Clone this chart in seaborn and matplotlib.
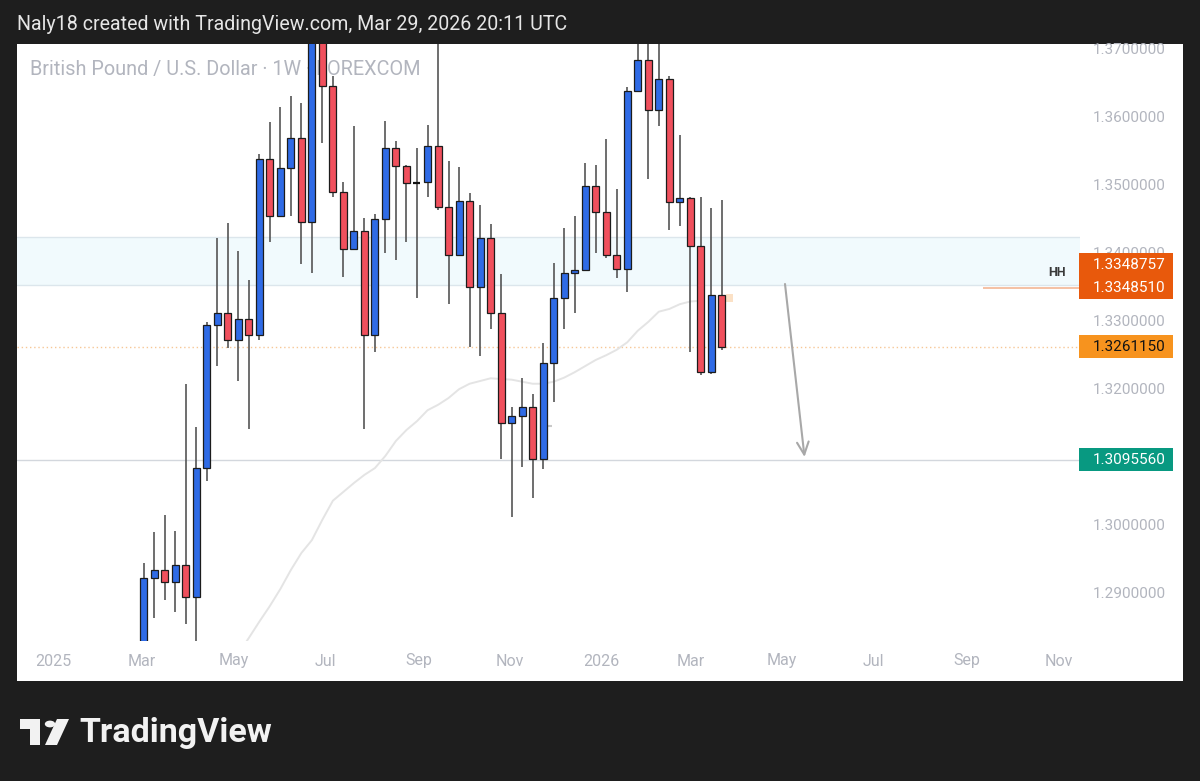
import numpy as np
import pandas as pd
import matplotlib
matplotlib.use("Agg")
import matplotlib.pyplot as plt
import matplotlib.dates as mdates
from matplotlib.patches import Rectangle, Circle, Polygon
from matplotlib.transforms import blended_transform_factory
import seaborn as sns

# ---------------- data (weekly GBP/USD candles) ----------------
first_week = "2025-03-02"
opens = [1.2700, 1.2922, 1.2933, 1.2915, 1.2941, 1.2894, 1.3083, 1.3293, 1.3311, 1.3271,
         1.3302, 1.3279, 1.3538, 1.3454, 1.3524, 1.3569, 1.3445, 1.3716, 1.3645, 1.3489,
         1.3405, 1.3432, 1.3279, 1.3450, 1.3554, 1.3527, 1.3502, 1.3504, 1.3557, 1.3467,
         1.3397, 1.3476, 1.3350, 1.3422, 1.3311, 1.3149, 1.3160, 1.3173, 1.3096, 1.3238,
         1.3333, 1.3370, 1.3374, 1.3498, 1.3459, 1.3397, 1.3376, 1.3638, 1.3683, 1.3609,
         1.3655, 1.3474, 1.3480, 1.3410, 1.3224, 1.3338]
highs = [1.2943, 1.2989, 1.3014, 1.2990, 1.3206, 1.3144, 1.3298, 1.3422, 1.3443, 1.3402,
         1.3360, 1.3545, 1.3592, 1.3614, 1.3630, 1.3620, 1.3750, 1.3790, 1.3660, 1.3503,
         1.3586, 1.3451, 1.3457, 1.3593, 1.3564, 1.3529, 1.3553, 1.3588, 1.3726, 1.3535,
         1.3526, 1.3488, 1.3470, 1.3442, 1.3368, 1.3173, 1.3215, 1.3192, 1.3267, 1.3384,
         1.3436, 1.3454, 1.3532, 1.3529, 1.3567, 1.3493, 1.3644, 1.3720, 1.3740, 1.3760,
         1.3660, 1.3573, 1.3482, 1.3481, 1.3465, 1.3477]
lows = [1.2680, 1.2862, 1.2889, 1.2871, 1.2854, 1.2710, 1.3064, 1.3233, 1.3260, 1.3211,
        1.3140, 1.3272, 1.3415, 1.3453, 1.3454, 1.3383, 1.3370, 1.3561, 1.3481, 1.3364,
        1.3403, 1.3141, 1.3254, 1.3399, 1.3389, 1.3416, 1.3333, 1.3481, 1.3463, 1.3324,
        1.3395, 1.3261, 1.3248, 1.3287, 1.3097, 1.3011, 1.3085, 1.3039, 1.3081, 1.3180,
        1.3287, 1.3311, 1.3373, 1.3400, 1.3392, 1.3362, 1.3342, 1.3636, 1.3508, 1.3586,
        1.3433, 1.3439, 1.3253, 1.3220, 1.3222, 1.3257]
closes = [1.2921, 1.2933, 1.2915, 1.2941, 1.2894, 1.3083, 1.3293, 1.3311, 1.3271, 1.3302,
          1.3279, 1.3538, 1.3454, 1.3525, 1.3569, 1.3445, 1.3716, 1.3645, 1.3489, 1.3405,
          1.3432, 1.3279, 1.3449, 1.3554, 1.3527, 1.3502, 1.3504, 1.3557, 1.3467, 1.3397,
          1.3476, 1.3350, 1.3422, 1.3311, 1.3149, 1.3160, 1.3173, 1.3096, 1.3238, 1.3333,
          1.3370, 1.3374, 1.3498, 1.3459, 1.3397, 1.3376, 1.3638, 1.3683, 1.3609, 1.3655,
          1.3474, 1.3480, 1.3410, 1.3224, 1.3338, 1.326115]
doji_flags = [i == 26 for i in range(len(opens))]

# moving average line (starts at candle index 9)
ma_start_index = 9
ma_values = [1.2810, 1.2833, 1.2857, 1.2880, 1.2905, 1.2933, 1.2958, 1.2977, 1.3007, 1.3035,
             1.3048, 1.3061, 1.3073, 1.3083, 1.3101, 1.3123, 1.3139, 1.3152, 1.3168, 1.3176,
             1.3186, 1.3199, 1.3207, 1.3211, 1.3215, 1.3214, 1.3213, 1.3210, 1.3207, 1.3207,
             1.3210, 1.3216, 1.3224, 1.3233, 1.3242, 1.3249, 1.3257, 1.3268, 1.3285, 1.3298,
             1.3313, 1.3317, 1.3324, 1.3328, 1.3329]

zone_low, zone_high = 1.33522, 1.34224
support_price = 1.3095560
current_price = 1.3261150
ray_price = 1.3348510
upper_label_value = 1.3348757
ray_start = "2026-09-12"
arrow_start = ("2026-05-03", 1.33537)
arrow_end = ("2026-05-16", 1.30993)
hh_pos = ("2026-10-31", 1.33699)
dash_span = ("2025-11-22", "2025-11-29", 1.31453)
marker_box = ("2026-03-27", 1.33331)

ytick_values = [1.37, 1.36, 1.35, 1.34, 1.33, 1.32, 1.31, 1.30, 1.29]
xtick_dates = ["2025-01-01", "2025-03-01", "2025-05-01", "2025-07-01", "2025-09-01", "2025-11-01",
               "2026-01-01", "2026-03-01", "2026-05-01", "2026-07-01", "2026-09-01", "2026-11-01"]
xtick_labels = ["2025", "Mar", "May", "Jul", "Sep", "Nov", "2026", "Mar", "May", "Jul", "Sep", "Nov"]

header_text = "Naly18 created with TradingView.com, Mar 29, 2026 20:11 UTC"
title_text = "British Pound / U.S. Dollar · 1W · FOREXCOM"

# ---------------- style ----------------
sns.set_theme(style="white")
plt.rcParams["font.family"] = ["Roboto", "DejaVu Sans"]

BG = "#1e1e1e"
BLUE = "#2f6be6"
RED = "#f0505d"
EDGE = "#1c1c1c"
WICK = "#555555"
AXTXT = "#b2b5be"

W, H = 1200, 781
fig = plt.figure(figsize=(W / 100, H / 100), dpi=100, facecolor=BG)

def fx(px):
    return px / W

def fy(py):
    return 1 - py / H

# white chart panel
fig.patches.append(Rectangle((fx(17), fy(681)), fx(1183) - fx(17), fy(44) - fy(681),
                             transform=fig.transFigure, facecolor="white", edgecolor="none", zorder=-5))

ax = fig.add_axes([fx(17), fy(641), fx(1080) - fx(17), fy(44) - fy(641)])
ax.set_facecolor("white")
for s in ax.spines.values():
    s.set_visible(False)

base = mdates.date2num(pd.Timestamp("2025-01-01"))
dates = pd.date_range(first_week, periods=len(opens), freq="7D")
xs = mdates.date2num(dates)
ax.set_xlim(base - 24.3, base + 683.4)
ax.set_ylim(1.282868, 1.370662)

# zone, support and price lines
ax.axhspan(zone_low, zone_high, facecolor="#f1fafd", edgecolor="none", zorder=0)
ax.axhline(zone_high, color="#dce6ec", lw=1, zorder=0.5)
ax.axhline(zone_low, color="#dce6ec", lw=1, zorder=0.5)
ax.axhline(support_price, color="#d3d7dd", lw=1, zorder=0.5)
ax.axhline(current_price, color="#f7c796", lw=1, ls=(0, (1, 2)), zorder=0.6)

# title inside pane (under candles)
ax.text((30 - 17) / (1080 - 17), 1 - (70 - 44) / (641 - 44), title_text,
        transform=ax.transAxes, ha="left", va="center", fontsize=14.3, color=AXTXT, zorder=1)

# moving average
ma_df = pd.DataFrame({"x": xs[ma_start_index:ma_start_index + len(ma_values)], "ma": ma_values})
sns.lineplot(data=ma_df, x="x", y="ma", ax=ax, color="#e4e4e4", lw=1.4, zorder=2)

# candles
o = np.array(opens); c = np.array(closes); h = np.array(highs); l = np.array(lows)
up = c >= o
colors = [BLUE if u else RED for u in up]
ax.vlines(xs, l, h, color=WICK, lw=1.2, zorder=3)
bottoms = np.minimum(o, c)
heights = np.maximum(np.abs(c - o), 0.00002)
body_w = 4.66
for i in range(len(xs)):
    if doji_flags[i]:
        ax.hlines(o[i], xs[i] - body_w / 2, xs[i] + body_w / 2, color="#111111", lw=1.6, zorder=4)
ax.bar([x for x, d in zip(xs, doji_flags) if not d],
       [hh for hh, d in zip(heights, doji_flags) if not d],
       bottom=[b for b, d in zip(bottoms, doji_flags) if not d],
       width=body_w, color=[cc for cc, d in zip(colors, doji_flags) if not d],
       edgecolor=EDGE, linewidth=0.9, zorder=4)

# small drawings
d0, d1, dp = dash_span
ax.hlines(dp, mdates.date2num(pd.Timestamp(d0)), mdates.date2num(pd.Timestamp(d1)),
          color="#c9c9c9", lw=1.5, zorder=2)
mb_x = mdates.date2num(pd.Timestamp(marker_box[0]))
ax.add_patch(Rectangle((mb_x - 2.3, marker_box[1] - 0.0006), 4.6, 0.0012,
                       facecolor="#fbe1c6", edgecolor="none", zorder=2))
ax.hlines(ray_price, mdates.date2num(pd.Timestamp(ray_start)), ax.get_xlim()[1],
          color="#f3b08c", lw=1.1, zorder=2)
ax.annotate("", xy=(mdates.date2num(pd.Timestamp(arrow_end[0])), arrow_end[1]),
            xytext=(mdates.date2num(pd.Timestamp(arrow_start[0])), arrow_start[1]),
            arrowprops=dict(arrowstyle="->,head_length=0.75,head_width=0.35",
                            color="#a8a8a8", lw=1.5, shrinkA=0, shrinkB=0), zorder=2)
ax.text(mdates.date2num(pd.Timestamp(hh_pos[0])), hh_pos[1], "HH", ha="center", va="center",
        fontsize=9, fontweight="bold", color="#3a3a3a", zorder=3)

# axes ticks
ax.yaxis.tick_right()
ax.set_yticks(ytick_values)
ax.set_yticklabels([f"{v:.7f}" for v in ytick_values])
ax.set_xticks([mdates.date2num(pd.Timestamp(d)) for d in xtick_dates])
ax.set_xticklabels(xtick_labels)
ax.tick_params(axis="y", length=0, pad=9.5, labelsize=11, labelcolor=AXTXT)
ax.tick_params(axis="x", length=0, pad=9, labelsize=11.5, labelcolor=AXTXT)
ax.set_xlabel(""); ax.set_ylabel("")
ax.grid(False)

# price labels on the right axis
tr = blended_transform_factory(ax.transAxes, ax.transData)
ax_w_px = 1080 - 17
box_x = (1079 - 17) / ax_w_px
box_w = 94 / ax_w_px
txt_x = (1093 - 17) / ax_w_px
box_h = 23 / 6800

def price_label(center, text, face, tcolor):
    ax.add_patch(Rectangle((box_x, center - box_h / 2), box_w, box_h, transform=tr,
                           facecolor=face, edgecolor="none", clip_on=False, zorder=6))
    ax.text(txt_x, center, text, transform=tr, ha="left", va="center", fontsize=11,
            color=tcolor, clip_on=False, zorder=7)

price_label(ray_price + box_h, f"{upper_label_value:.7f}", "#e8590c", "white")
price_label(ray_price, f"{ray_price:.7f}", "#e8590c", "white")
price_label(current_price, f"{current_price:.7f}", "#f7931e", "#131313")
price_label(support_price, f"{support_price:.7f}", "#089981", "white")

# header
fig.text(fx(17), fy(24), header_text, ha="left", va="center", fontsize=14.15, color="#e6e6e6")

# TradingView logo
LOGO = "#f2f2f2"
def add_rect(x0, y0, x1, y1):
    fig.patches.append(Rectangle((fx(x0), fy(y1)), fx(x1) - fx(x0), fy(y0) - fy(y1),
                                 transform=fig.transFigure, facecolor=LOGO, edgecolor="none"))
add_rect(20, 719, 40, 729)
add_rect(30, 719, 40, 745)
fig.patches.append(Circle((fx(50), fy(724)), 5.2 / W, transform=fig.transFigure,
                          facecolor=LOGO, edgecolor="none"))
fig.patches.append(Polygon([(fx(57), fy(719)), (fx(69), fy(719)), (fx(57), fy(745)), (fx(45), fy(745))],
                           closed=True, transform=fig.transFigure, facecolor=LOGO, edgecolor="none"))
fig.text(fx(79), fy(733), "TradingView", ha="left", va="center", fontsize=24.5,
         fontweight="bold", color=LOGO)

fig.savefig("out.png", dpi=100, facecolor=BG)
